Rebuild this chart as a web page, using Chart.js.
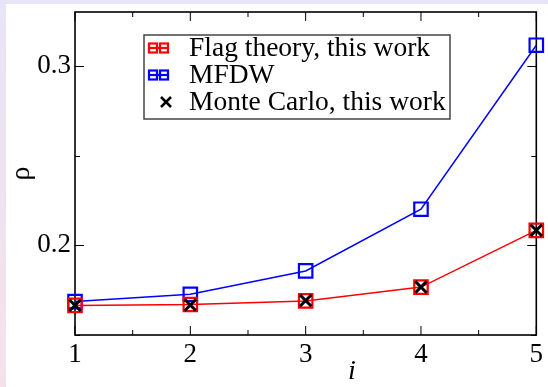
<!DOCTYPE html>
<html>
<head>
<meta charset="utf-8">
<script src="https://cdn.jsdelivr.net/npm/chart.js@4"></script>
<style>
  html, body { margin: 0; padding: 0; }
  body {
    width: 548px; height: 387px; overflow: hidden; position: relative;
    background: linear-gradient(#e8e4f7, #f6e1ea);
  }
  #panel { position: absolute; left: 6px; top: 4px; right: 0; bottom: 0; background: #fff; }
  #wrap { position: absolute; left: 0; top: 0; width: 548px; height: 387px; }
</style>
</head>
<body>
<div id="panel"></div>
<div id="wrap"><canvas id="c" width="548" height="387"></canvas></div>
<script>
// Chain position i
const iValues = [1, 2, 3, 4, 5];

// Density rho for each method
const flagTheory = [0.1665, 0.1670, 0.1690, 0.1767, 0.2083];
const mfdw       = [0.1686, 0.1727, 0.1857, 0.2201, 0.3115];
const monteCarlo = [0.1665, 0.1667, 0.1692, 0.1767, 0.2083];

const seriesNames = ['Flag theory, this work', 'MFDW', 'Monte Carlo, this work'];

// Axis ticks
const xMajor = [1, 2, 3, 4, 5];
const xMinor = [1.5, 2.5, 3.5, 4.5];
const xTickLabels = ['1', '2', '3', '4', '5'];
const yMajor = [0.2, 0.3];
const yMinor = [0.15, 0.25];
const yTickLabels = ['0.2', '0.3'];

const SERIF = "'Liberation Serif', 'DejaVu Serif', serif";

const pts = ys => iValues.map((x, k) => ({ x, y: ys[k] }));

// Boxed frame with inward ticks on all four sides, axis titles and legend box
const framePlugin = {
  id: 'frame',
  beforeDatasetsDraw(chart) {
    const { ctx, chartArea: a, scales: { x, y } } = chart;
    ctx.save();
    ctx.strokeStyle = '#000';
    ctx.lineWidth = 1;
    const tick = (px, len, vertical) => {
      ctx.beginPath();
      if (vertical) {
        ctx.moveTo(px, a.bottom); ctx.lineTo(px, a.bottom - len);
        ctx.moveTo(px, a.top);    ctx.lineTo(px, a.top + len);
      } else {
        ctx.moveTo(a.left, px);  ctx.lineTo(a.left + len, px);
        ctx.moveTo(a.right, px); ctx.lineTo(a.right - len, px);
      }
      ctx.stroke();
    };
    xMajor.forEach(v => tick(x.getPixelForValue(v), 9, true));
    xMinor.forEach(v => tick(x.getPixelForValue(v), 5, true));
    yMajor.forEach(v => tick(Math.round(y.getPixelForValue(v)) + 0.5, 9, false));
    yMinor.forEach(v => tick(Math.round(y.getPixelForValue(v)) + 0.5, 5, false));
    ctx.lineWidth = 1.6;
    ctx.strokeRect(a.left, a.top, a.right - a.left, a.bottom - a.top);

    // axis titles
    ctx.fillStyle = '#000';
    ctx.textAlign = 'center';
    ctx.textBaseline = 'middle';
    ctx.save();
    ctx.translate(22, (a.top + a.bottom) / 2);
    ctx.rotate(-Math.PI / 2);
    ctx.font = '28px ' + SERIF;
    ctx.fillText('\u03C1', 0, 0);
    ctx.restore();
    ctx.font = 'italic 28px ' + SERIF;
    ctx.fillText('i', a.left + 0.6 * (a.right - a.left), 372);
    ctx.restore();
  },
  afterDraw(chart) {
    const { ctx } = chart;
    const box = { left: 144, top: 35, right: 450, bottom: 119 };
    const rows = [48, 75, 102];
    ctx.save();
    ctx.fillStyle = '#fff';
    ctx.fillRect(box.left, box.top, box.right - box.left, box.bottom - box.top);
    ctx.strokeStyle = '#444';
    ctx.lineWidth = 1.5;
    ctx.strokeRect(box.left, box.top, box.right - box.left, box.bottom - box.top);
    chart.data.datasets.forEach((ds, k) => {
      const yy = rows[k];
      ctx.strokeStyle = ds.borderColor;
      if (ds.pointStyle === 'rect') {
        ctx.lineWidth = 2.2;
        ctx.strokeRect(149, yy - 4.5, 8, 9);
        ctx.strokeRect(160, yy - 4.5, 8, 9);
        ctx.beginPath(); ctx.moveTo(149, yy); ctx.lineTo(168, yy); ctx.stroke();
      } else {
        ctx.lineWidth = 2.5;
        ctx.beginPath();
        ctx.moveTo(161, yy - 5); ctx.lineTo(171, yy + 5);
        ctx.moveTo(171, yy - 5); ctx.lineTo(161, yy + 5);
        ctx.stroke();
      }
      ctx.fillStyle = '#000';
      ctx.font = '27.5px ' + SERIF;
      ctx.textAlign = 'left';
      ctx.textBaseline = 'middle';
      ctx.fillText(ds.label, 189, yy + 1);
    });
    ctx.restore();
  }
};

new Chart(document.getElementById('c'), {
  type: 'line',
  data: {
    datasets: [
      {
        label: seriesNames[0], data: pts(flagTheory), order: 1,
        borderColor: '#ff0000', borderWidth: 1.5,
        pointStyle: 'rect', pointRadius: 9.5, pointBorderWidth: 2.2,
        pointBackgroundColor: 'rgba(0,0,0,0)', pointBorderColor: '#ff0000',
        clip: false
      },
      {
        label: seriesNames[1], data: pts(mfdw), order: 2,
        borderColor: '#0000ff', borderWidth: 1.5,
        pointStyle: 'rect', pointRadius: 9.5, pointBorderWidth: 2.2,
        pointBackgroundColor: 'rgba(0,0,0,0)', pointBorderColor: '#0000ff',
        clip: false
      },
      {
        label: seriesNames[2], data: pts(monteCarlo), order: 0,
        showLine: false, borderColor: '#000',
        pointStyle: 'crossRot', pointRadius: 8, pointBorderWidth: 3,
        pointBorderColor: '#000',
        clip: false
      }
    ]
  },
  options: {
    responsive: false,
    animation: false,
    events: [],
    layout: { padding: { left: 0, top: 12, right: 10, bottom: 0 } },
    plugins: { legend: { display: false }, tooltip: { enabled: false } },
    scales: {
      x: {
        type: 'linear', min: 1, max: 5,
        grid: { display: false, drawTicks: false },
        border: { display: false },
        afterBuildTicks: s => { s.ticks = xMajor.map(v => ({ value: v })); },
        afterFit: s => { s.height = 52; s.paddingLeft = 0; s.paddingRight = 0; },
        ticks: {
          autoSkip: false, maxRotation: 0, padding: 4, color: '#000',
          font: { family: SERIF, size: 27 },
          callback: (v, idx) => xTickLabels[idx]
        }
      },
      y: {
        type: 'linear', min: 0.15, max: 0.33,
        grid: { display: false, drawTicks: false },
        border: { display: false },
        afterBuildTicks: s => { s.ticks = yMajor.map(v => ({ value: v })); },
        afterFit: s => { s.width = 75; s.paddingTop = 0; s.paddingBottom = 0; },
        ticks: {
          padding: 4, color: '#000',
          font: { family: SERIF, size: 27 },
          callback: (v, idx) => yTickLabels[idx]
        }
      }
    }
  },
  plugins: [framePlugin]
});
</script>
</body>
</html>
